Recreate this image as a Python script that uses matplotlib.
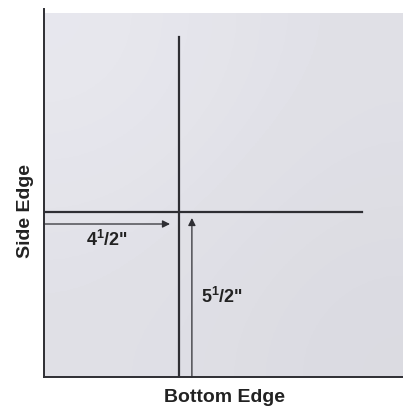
import matplotlib.pyplot as plt
import numpy as np
from matplotlib.patches import Rectangle

plt.rcParams['mathtext.fontset'] = 'custom'
plt.rcParams['mathtext.rm'] = 'Liberation Sans'
plt.rcParams['mathtext.bf'] = 'Liberation Sans:bold'

# measurements in inches
side_dist = 4.5      # from the side edge
bottom_dist = 5.5    # from the bottom edge
side_label = r'$\mathbf{4^1/2}$"'
bottom_label = r'$\mathbf{5^1/2}$"'

# sheet size in inches (drawing extent)
sheet_w = 11.97
sheet_h = 12.13
vline_top = 11.33
hline_right = 10.6

fig = plt.figure(figsize=(4.03, 4.09), dpi=100)
ax = fig.add_axes([44 / 403, 32 / 409, 359 / 403, 368 / 409])
ax.set_xlim(0, 11.967)
ax.set_ylim(0, 12.267)

# light gray sheet, a bit whiter in the upper left
grad = np.array([[0.93, 0.89], [0.89, 0.86]])
ax.imshow(grad, cmap='gray', vmin=0, vmax=1, interpolation='bicubic',
          extent=(0, sheet_w, 0, sheet_h), aspect='auto', zorder=0)
ax.add_patch(Rectangle((0, 0), sheet_w, sheet_h, facecolor=(0.85, 0.85, 0.95),
                       alpha=0.25, edgecolor='none', zorder=1))

line_col = '#2e2e33'
ax.plot([side_dist, side_dist], [0, vline_top], color=line_col, lw=1.6, zorder=3)
ax.plot([0, hline_right], [bottom_dist, bottom_dist], color=line_col, lw=1.6, zorder=3)

# arrows
ax.annotate('', xy=(side_dist - 0.3, bottom_dist - 0.4), xytext=(0, bottom_dist - 0.4),
            arrowprops=dict(arrowstyle='-|>', color=line_col, lw=0.9, mutation_scale=11,
                            shrinkA=0, shrinkB=0), zorder=4)
ax.annotate('', xy=(side_dist + 0.43, bottom_dist - 0.2), xytext=(side_dist + 0.43, 0),
            arrowprops=dict(arrowstyle='-|>', color=line_col, lw=0.9, mutation_scale=11,
                            shrinkA=0, shrinkB=0), zorder=4)

fam = ['Liberation Sans', 'DejaVu Sans']
ax.text(2.1, 4.57, side_label, ha='center', va='center', fontsize=13,
        fontweight='bold', color='#222', family=fam)
ax.text(5.93, 2.67, bottom_label, ha='center', va='center', fontsize=13,
        fontweight='bold', color='#222', family=fam)

ax.set_xticks([])
ax.set_yticks([])
ax.spines['top'].set_visible(False)
ax.spines['right'].set_visible(False)
ax.spines['left'].set_color(line_col)
ax.spines['bottom'].set_color(line_col)
ax.spines['left'].set_linewidth(1.4)
ax.spines['bottom'].set_linewidth(1.4)

fig.text(224 / 403, 1 - 397 / 409, 'Bottom Edge', ha='center', va='center',
         fontsize=14, fontweight='bold', color='#222', family=fam)
fig.text(25 / 403, 1 - 211 / 409, 'Side Edge', ha='center', va='center', rotation=90,
         fontsize=14, fontweight='bold', color='#222', family=fam)

fig.savefig('out.png', dpi=100)
